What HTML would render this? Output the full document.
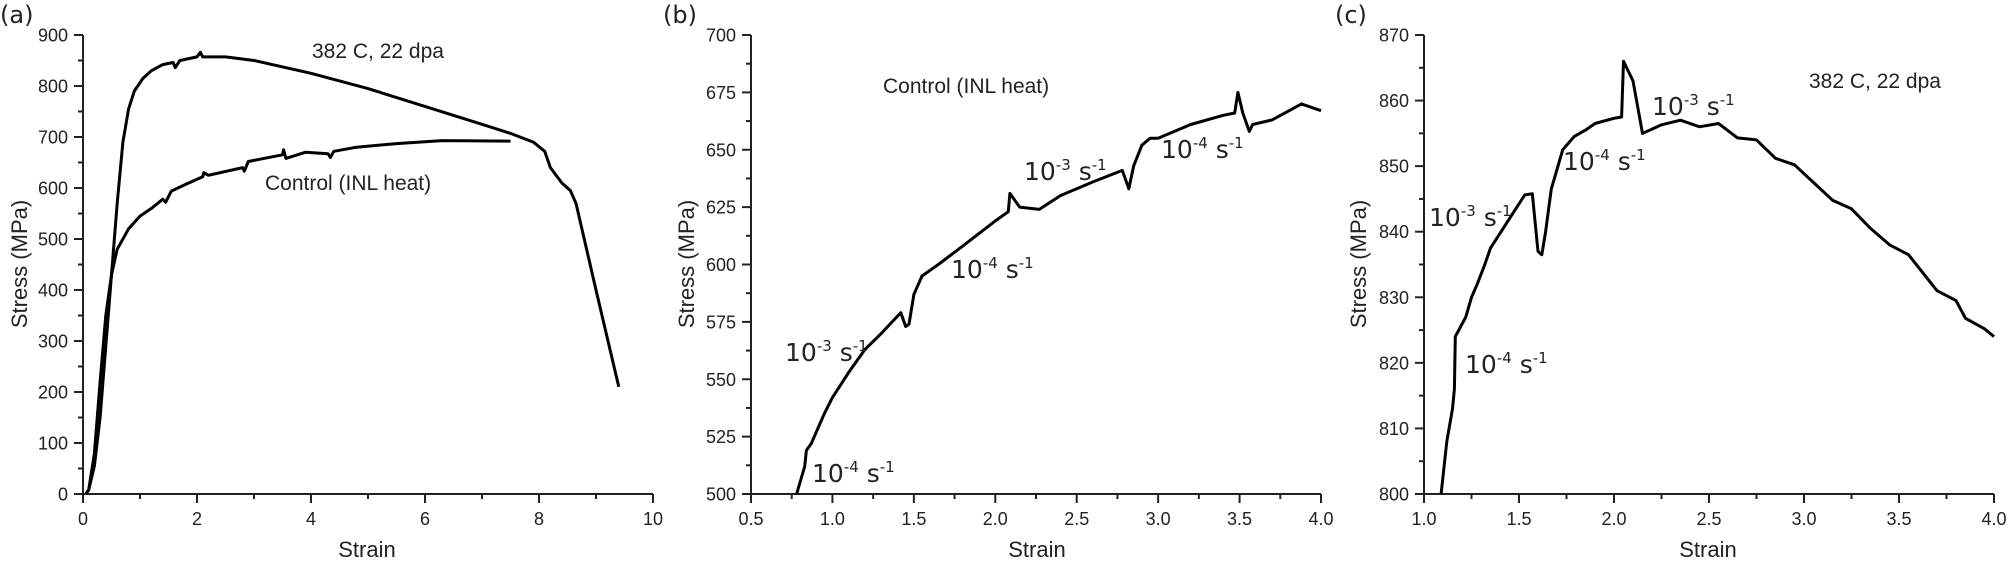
<!DOCTYPE html>
<html><head><meta charset="utf-8"><style>
html,body{margin:0;padding:0;background:#fff;}
svg{display:block;}
text{font-family:"Liberation Sans",sans-serif;fill:#222;}
.t{font-size:18px;}
.ti{font-size:22px;}
.an{font-size:25px;font-family:"DejaVu Sans","Liberation Sans",sans-serif;}
.sup{font-size:15px;}
</style></head><body>
<svg id="s" width="2008" height="563" viewBox="0 0 2008 563" xmlns="http://www.w3.org/2000/svg"></svg>
<script>
const S=document.getElementById('s');let h='';
function panel(P){
 const X=v=>P.x0+(v-P.xmin)/(P.xmax-P.xmin)*(P.x1-P.x0);
 const Y=v=>P.y0+(v-P.ymin)/(P.ymax-P.ymin)*(P.y1-P.y0);
 h+=`<path d="M${P.x0} ${P.y1}V${P.y0}H${P.x1}" fill="none" stroke="#222" stroke-width="2"/>`;
 for(let v=P.ymin,i=0;v<=P.ymax+1e-9;v+=P.ym/2,i++){const y=Y(v);const L=i%2?5:9;h+=`<line x1="${P.x0-L}" x2="${P.x0}" y1="${y}" y2="${y}" stroke="#222" stroke-width="2"/>`;if(i%2==0)h+=`<text class="t" x="${P.x0-15}" y="${y+6.5}" text-anchor="end">${P.fy(v)}</text>`;}
 for(let v=P.xmin,i=0;v<=P.xmax+1e-9;v+=P.xm/2,i++){const x=X(v);const L=i%2?5:9;h+=`<line x1="${x}" x2="${x}" y1="${P.y0}" y2="${P.y0+L}" stroke="#222" stroke-width="2"/>`;if(i%2==0)h+=`<text class="t" x="${x}" y="525" text-anchor="middle">${P.fx(v)}</text>`;}
 for(const d of P.data){h+=`<polyline fill="none" stroke="#000" stroke-width="3" stroke-linejoin="round" points="${d.map(p=>X(p[0]).toFixed(1)+','+Y(p[1]).toFixed(1)).join(' ')}"/>`;}
 h+=`<text class="ti" x="${P.xt}" y="557" text-anchor="middle">Strain</text>`;
 h+=`<text class="ti" transform="translate(${P.yt},264) rotate(-90)" text-anchor="middle">Stress (MPa)</text>`;
 h+=`<text class="an" x="${P.lx}" y="23" style="font-size:24px">${P.lab}</text>`;
}
function rate(x,y,e){h+=`<text class="an" x="${x}" y="${y}">10<tspan class="sup" dy="-10">-${e}</tspan><tspan dy="10"> s</tspan><tspan class="sup" dy="-10">-1</tspan></text>`;}
const irr=[[0.05,0],[0.1,8],[0.2,55],[0.3,150],[0.4,290],[0.5,430],[0.6,570],[0.7,690],[0.8,755],[0.9,790],[1.05,815],[1.2,830],[1.4,842],[1.58,846],[1.62,836],[1.7,850],[2.0,857],[2.06,866],[2.1,857],[2.5,857],[3,850],[4,825],[5,795],[6,760],[7,725],[7.5,707],[7.9,690],[8.1,672],[8.2,640],[8.4,610],[8.55,595],[8.65,570],[9.0,400],[9.4,210]];
const ctl=[[0.05,0],[0.1,8],[0.2,80],[0.3,220],[0.4,350],[0.5,430],[0.6,480],[0.8,520],[1.0,545],[1.2,560],[1.4,578],[1.45,572],[1.55,594],[1.8,607],[2.1,622],[2.12,630],[2.2,625],[2.8,640],[2.83,633],[2.9,652],[3.5,665],[3.52,675],[3.56,658],[3.9,670],[4.3,667],[4.34,660],[4.4,672],[4.8,680],[5.5,687],[6.3,693],[7.5,692]];
panel({x0:83,x1:653,y0:494,y1:35,xmin:0,xmax:10,ymin:0,ymax:900,ym:100,xm:2,fy:v=>Math.round(v),fx:v=>Math.round(v),data:[irr,ctl],xt:367,yt:27,lx:0,lab:'(a)'});
h+=`<text class="ti" x="312" y="58" style="font-size:21px">382 C, 22 dpa</text><text class="ti" x="265" y="190" style="font-size:21px">Control (INL heat)</text>`;
const b=[[0.78,500],[0.83,512],[0.84,519],[0.87,522],[0.95,535],[1.0,542],[1.1,553],[1.2,563],[1.3,570],[1.42,579],[1.45,573],[1.47,574],[1.5,587],[1.55,595],[1.65,600],[1.8,608],[2.0,619],[2.08,623],[2.09,631],[2.12,628],[2.15,625],[2.27,624],[2.4,630],[2.6,636],[2.78,641],[2.82,633],[2.85,643],[2.9,652],[2.95,655],[3.0,655],[3.2,661],[3.4,665],[3.47,666],[3.49,675],[3.52,666],[3.56,658],[3.58,661],[3.7,663],[3.88,670],[4.0,667]];
panel({x0:751,x1:1321,y0:494,y1:35,xmin:0.5,xmax:4,ymin:500,ymax:700,ym:25,xm:0.5,fy:v=>Math.round(v),fx:v=>v.toFixed(1),data:[b],xt:1037,yt:694,lx:663,lab:'(b)'});
h+=`<text class="ti" x="883" y="93" style="font-size:21px">Control (INL heat)</text>`;
rate(785,361,3);rate(812,482,4);rate(951,278,4);rate(1024,180,3);rate(1161,158,4);
const c=[[1.09,800],[1.12,808],[1.15,813],[1.16,816],[1.165,824],[1.22,827],[1.25,830],[1.28,832],[1.32,835],[1.35,837.5],[1.45,842],[1.53,845.6],[1.57,845.8],[1.6,837],[1.62,836.5],[1.64,840],[1.67,846.5],[1.73,852.5],[1.79,854.5],[1.85,855.5],[1.9,856.5],[2.0,857.3],[2.04,857.5],[2.05,866],[2.1,863],[2.15,855],[2.25,856.3],[2.35,857],[2.45,856],[2.55,856.5],[2.65,854.3],[2.75,854],[2.85,851.2],[2.95,850.2],[3.05,847.5],[3.15,844.8],[3.25,843.5],[3.35,840.5],[3.45,838],[3.55,836.5],[3.7,831],[3.8,829.5],[3.85,826.8],[3.95,825.2],[4.0,824]];
panel({x0:1424,x1:1994,y0:494,y1:35,xmin:1,xmax:4,ymin:800,ymax:870,ym:10,xm:0.5,fy:v=>Math.round(v),fx:v=>v.toFixed(1),data:[c],xt:1708,yt:1366,lx:1335,lab:'(c)'});
h+=`<text class="ti" x="1809" y="88" style="font-size:21px">382 C, 22 dpa</text>`;
rate(1652,115,3);rate(1563,170,4);rate(1429,226,3);rate(1465,373,4);
S.innerHTML=h;
</script>
</body></html>
